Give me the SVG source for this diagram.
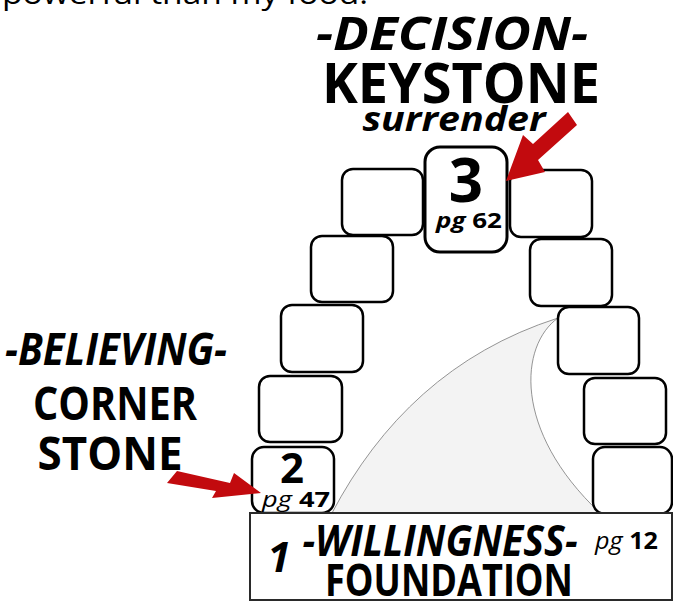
<svg xmlns="http://www.w3.org/2000/svg" width="673" height="602" viewBox="0 0 673 602">
  <style>
    .blk { fill: #ffffff; stroke: #000000; stroke-width: 2.5; }
    .key { fill: #ffffff; stroke: #000000; stroke-width: 3; }
    .base { fill: #ffffff; stroke: #2a2a2a; stroke-width: 2; }
    .t { font-family: "Open Sans", "Noto Sans", "Liberation Sans", sans-serif; fill: #000000; }
    .bi { font-weight: 700; font-style: italic; }
    .b { font-weight: 700; }
    .i { font-style: italic; }
    .ptr { fill: #c20a0e; }
    .shade { fill: #f3f3f3; stroke: #7a7a7a; stroke-width: 0.8; }
  </style>

  <!-- partial caption line at the top edge -->
  <text class="t" x="2" y="4" font-size="30" textLength="366" lengthAdjust="spacingAndGlyphs">powerful than my food.</text>

  <!-- shaded span under the arch -->
  <path class="shade" d="M 332,513 C 380,422 452,352 558,318 C 520,345 512,430 600,513 Z"/>

  <!-- headings -->
  <g id="keystone-label">
    <text class="t bi" x="452" y="50" font-size="47" text-anchor="middle" textLength="272" lengthAdjust="spacingAndGlyphs">-DECISION-</text>
    <text class="t b" x="461" y="103" font-size="56" text-anchor="middle" textLength="278" lengthAdjust="spacingAndGlyphs">KEYSTONE</text>
    <text class="t bi" x="454" y="131" font-size="34" text-anchor="middle" textLength="183" lengthAdjust="spacingAndGlyphs">surrender</text>
  </g>
  <g id="cornerstone-label">
    <text class="t bi" x="116" y="365" font-size="44" text-anchor="middle" textLength="222" lengthAdjust="spacingAndGlyphs">-BELIEVING-</text>
    <text class="t b" x="115" y="420" font-size="46" text-anchor="middle" textLength="164" lengthAdjust="spacingAndGlyphs">CORNER</text>
    <text class="t b" x="110" y="470" font-size="46" text-anchor="middle" textLength="145" lengthAdjust="spacingAndGlyphs">STONE</text>
  </g>

  <!-- left side of the arch -->
  <g id="block-l1"><rect class="blk" x="342" y="169" width="81" height="66" rx="11"/></g>
  <g id="block-l2"><rect class="blk" x="311" y="236" width="82" height="66" rx="11"/></g>
  <g id="block-l3"><rect class="blk" x="281" y="305" width="82" height="67" rx="11"/></g>
  <g id="block-l4"><rect class="blk" x="259" y="376" width="83" height="66" rx="11"/></g>
  <g id="cornerstone">
    <rect class="blk" x="252" y="447" width="82" height="66" rx="12"/>
    <text class="t b" x="292" y="483" font-size="42" text-anchor="middle">2</text>
    <text class="t" x="262" y="507" font-size="22" textLength="68" lengthAdjust="spacingAndGlyphs"><tspan class="i">pg</tspan> <tspan class="b">47</tspan></text>
  </g>

  <!-- keystone at the crown -->
  <g id="keystone">
    <rect class="key" x="425" y="147" width="82" height="105" rx="15"/>
    <text class="t b" x="466" y="202" font-size="60" text-anchor="middle">3</text>
    <text class="t" x="436" y="228" font-size="22" textLength="66" lengthAdjust="spacingAndGlyphs"><tspan class="bi">pg</tspan> <tspan class="b">62</tspan></text>
  </g>

  <!-- right side of the arch -->
  <g id="block-r1"><rect class="blk" x="510" y="170" width="82" height="67" rx="11"/></g>
  <g id="block-r2"><rect class="blk" x="530" y="239" width="82" height="67" rx="11"/></g>
  <g id="block-r3"><rect class="blk" x="558" y="307" width="81" height="67" rx="11"/></g>
  <g id="block-r4"><rect class="blk" x="584" y="378" width="82" height="66" rx="11"/></g>
  <g id="block-r5"><rect class="blk" x="593" y="447" width="79" height="67" rx="12"/></g>

  <!-- foundation -->
  <g id="foundation">
    <rect class="base" x="250" y="513" width="422" height="87"/>
    <text class="t bi" x="279" y="572" font-size="42" text-anchor="middle">1</text>
    <text class="t bi" x="440" y="556" font-size="43" text-anchor="middle" textLength="275" lengthAdjust="spacingAndGlyphs">-WILLINGNESS-</text>
    <text class="t b" x="449" y="596" font-size="45" text-anchor="middle" textLength="248" lengthAdjust="spacingAndGlyphs">FOUNDATION</text>
    <text class="t" x="595" y="549" font-size="23" textLength="63" lengthAdjust="spacingAndGlyphs"><tspan class="i">pg</tspan> <tspan class="b">12</tspan></text>
  </g>

  <!-- pointer arrows -->
  <g id="connectors">
    <polygon class="ptr" points="506,181 523,135 533,144 568,112 577,125 538,160 545,172"/>
    <polygon class="ptr" points="177,471 230,483 234,473 261,493 212,498 216,491 167,483"/>
  </g>
</svg>
